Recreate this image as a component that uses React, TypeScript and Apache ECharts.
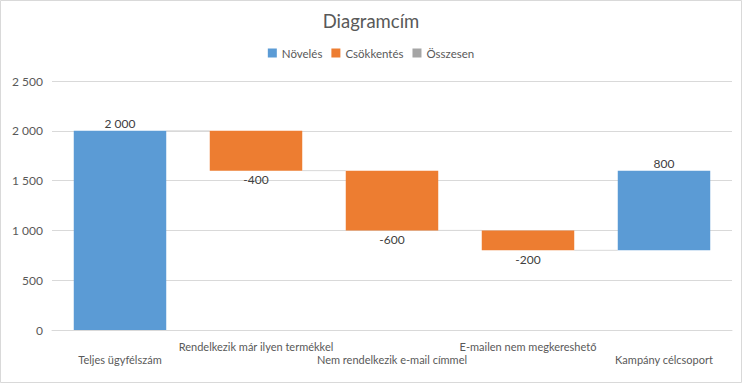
import React, { useEffect, useRef } from "react";
import * as echarts from "echarts";

const categories = [
  "Teljes ügyfélszám",
  "Rendelkezik már ilyen termékkel",
  "Nem rendelkezik e-mail címmel",
  "E-mailen nem megkereshető",
  "Kampány célcsoport",
];
const changes = [2000, -400, -600, -200, 800];
const legendNames = ["Növelés", "Csökkentés", "Összesen"];
const yMin = 0;
const yMax = 2500;
const yInterval = 500;

const fmt = (v: number) => String(v).replace(/\B(?=(\d{3})+(?!\d))/g, " ");

export default function App() {
  const ref = useRef<HTMLDivElement>(null);
  useEffect(() => {
    if (!ref.current) return;
    const chart = echarts.init(ref.current, null, { renderer: "svg" });

    const base: (number | string)[] = [];
    const inc: (number | string)[] = [];
    const dec: (number | string)[] = [];
    const conn: number[][] = [];
    let run = 0;
    changes.forEach((c, i) => {
      if (c >= 0) {
        base.push(run);
        inc.push(c);
        dec.push("-");
      } else {
        base.push(run + c);
        inc.push("-");
        dec.push(-c);
      }
      run += c;
      if (i < changes.length - 1) conn.push([i, run]);
    });
    const empty = categories.map(() => "-");
    const font = "Lato, 'Liberation Sans', sans-serif";
    const barW = 0.68;

    chart.setOption({
      animation: false,
      textStyle: { fontFamily: font },
      title: {
        text: "Diagramcím",
        left: "center",
        top: 6,
        textStyle: { fontSize: 18.5, fontWeight: "normal", color: "#595959", fontFamily: font },
      },
      legend: {
        data: legendNames,
        top: 42,
        left: "center",
        icon: "rect",
        itemWidth: 9,
        itemHeight: 9,
        itemGap: 9,
        textStyle: { fontSize: 11.5, color: "#595959", fontFamily: font },
      },
      graphic: [
        {
          type: "rect",
          shape: { x: 0.5, y: 0.5, width: 741, height: 382 },
          style: { fill: "none", stroke: "#D9D9D9", lineWidth: 1 },
          silent: true,
        },
      ],
      grid: { left: 52, right: 10, top: 81, bottom: 53 },
      xAxis: {
        type: "category",
        data: categories,
        axisTick: { show: false },
        axisLine: { lineStyle: { color: "#D9D9D9" } },
        axisLabel: {
          interval: 0,
          color: "#595959",
          fontSize: 11,
          lineHeight: 13,
          margin: 10,
          fontFamily: font,
          formatter: (v: string, i: number) => (i % 2 === 0 ? "\n" + v : v),
        },
      },
      yAxis: {
        type: "value",
        min: yMin,
        max: yMax,
        interval: yInterval,
        axisLine: { show: false },
        axisTick: { show: false },
        splitLine: { lineStyle: { color: "#D9D9D9" } },
        axisLabel: {
          color: "#595959",
          fontSize: 12,
          margin: 9,
          fontFamily: font,
          formatter: (v: number) => fmt(v),
        },
      },
      series: [
        {
          name: "base",
          type: "bar",
          stack: "w",
          barWidth: barW * 100 + "%",
          itemStyle: { color: "transparent" },
          emphasis: { disabled: true },
          data: base,
        },
        {
          name: legendNames[0],
          type: "bar",
          stack: "w",
          barWidth: barW * 100 + "%",
          itemStyle: { color: "#5B9BD5" },
          label: {
            show: true,
            position: "top",
            distance: 1,
            color: "#404040",
            fontSize: 12,
            fontFamily: font,
            formatter: (p: any) => fmt(p.value),
          },
          data: inc,
        },
        {
          name: legendNames[1],
          type: "bar",
          stack: "w",
          barWidth: barW * 100 + "%",
          itemStyle: { color: "#ED7D31" },
          label: {
            show: true,
            position: "bottom",
            distance: 3,
            color: "#404040",
            fontSize: 12,
            fontFamily: font,
            formatter: (p: any) => "-" + fmt(p.value),
          },
          data: dec,
        },
        {
          name: legendNames[2],
          type: "bar",
          stack: "w",
          barWidth: barW * 100 + "%",
          itemStyle: { color: "#A5A5A5" },
          data: empty,
        },
        {
          name: "conn",
          type: "custom",
          silent: true,
          z: 1,
          renderItem: (params: any, api: any) => {
            const idx = api.value(0);
            const lvl = api.value(1);
            const p = api.coord([idx, lvl]);
            const w = api.size([1, 0])[0];
            const bw = w * barW;
            return {
              type: "line",
              shape: { x1: p[0] + bw / 2, y1: p[1], x2: p[0] + w - bw / 2, y2: p[1] },
              style: { stroke: "#D9D9D9", lineWidth: 1 },
            };
          },
          data: conn,
        },
      ],
    });
    return () => chart.dispose();
  }, []);
  return (
    <div
      ref={ref}
      style={{ position: "absolute", left: 0, top: 0, width: 742, height: 383 }}
    />
  );
}
